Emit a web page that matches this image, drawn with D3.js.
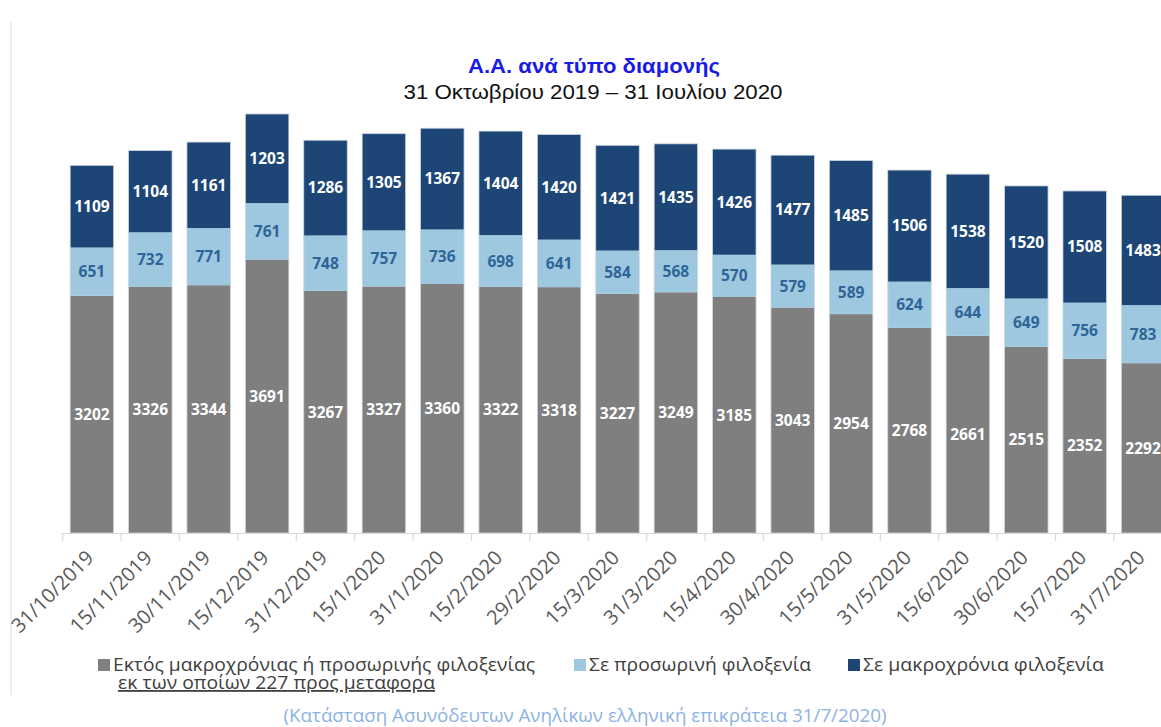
<!DOCTYPE html>
<html>
<head>
<meta charset="utf-8">
<script src="https://cdn.jsdelivr.net/npm/d3@7"></script>
<style>
  html, body { margin: 0; padding: 0; background: #fff; }
  svg { display: block; }
</style>
</head>
<body>
<script>
const categories = ["31/10/2019","15/11/2019","30/11/2019","15/12/2019","31/12/2019","15/1/2020","31/1/2020","15/2/2020","29/2/2020","15/3/2020","31/3/2020","15/4/2020","30/4/2020","15/5/2020","31/5/2020","15/6/2020","30/6/2020","15/7/2020","31/7/2020"];
const outside   = [3202,3326,3344,3691,3267,3327,3360,3322,3318,3227,3249,3185,3043,2954,2768,2661,2515,2352,2292];
const temporary = [651,732,771,761,748,757,736,698,641,584,568,570,579,589,624,644,649,756,783];
const longterm  = [1109,1104,1161,1203,1286,1305,1367,1404,1420,1421,1435,1426,1477,1485,1506,1538,1520,1508,1483];
const seriesNames = ["Εκτός μακροχρόνιας ή προσωρινής φιλοξενίας","Σε προσωρινή φιλοξενία","Σε μακροχρόνια φιλοξενία"];
const titleText = "Α.Α. ανά τύπο διαμονής";
const subtitleText = "31 Οκτωβρίου 2019 – 31 Ιουλίου 2020";
const noteText = "εκ των οποίων 227 προς μεταφορα";
const captionText = "(Κατάσταση Ασυνόδευτων Ανηλίκων ελληνική επικράτεια 31/7/2020)";

const W = 1161, H = 727;
const colors = ["#7f7f7f", "#9dc8e0", "#1d4677"];
const labelColors = ["#ffffff", "#2f6596", "#ffffff"];

const svg = d3.select("body").append("svg").attr("width", W).attr("height", H);

// left frame line
svg.append("line").attr("x1", 11).attr("x2", 11).attr("y1", 22).attr("y2", 695)
  .attr("stroke", "#dbeaf7").attr("stroke-width", 1.5);

const step = 58.4;
const x0 = 62.7;
const x = d3.scaleBand().domain(categories).range([x0, x0 + step * categories.length]).paddingInner(0.255).paddingOuter(0.1275);
const y = d3.scaleLinear().domain([0, 6000]).range([533, 88.4]);

const data = categories.map((c, i) => ({cat: c, outside: outside[i], temporary: temporary[i], longterm: longterm[i]}));
const keys = ["outside", "temporary", "longterm"];
const stacked = d3.stack().keys(keys)(data);

const g = svg.append("g");
stacked.forEach((s, si) => {
  g.selectAll(null).data(s).join("rect")
    .attr("x", d => x(d.data.cat))
    .attr("width", x.bandwidth())
    .attr("y", d => y(d[1]))
    .attr("height", d => y(d[0]) - y(d[1]))
    .attr("fill", colors[si]);
});
// light outline around bars
g.selectAll(null).data(data).join("rect")
  .attr("x", d => x(d.cat))
  .attr("width", x.bandwidth())
  .attr("y", d => y(d.outside + d.temporary + d.longterm))
  .attr("height", d => y(0) - y(d.outside + d.temporary + d.longterm))
  .attr("fill", "none").attr("stroke", "#cfd8e0").attr("stroke-width", 0.8);

// labels
stacked.forEach((s, si) => {
  g.selectAll(null).data(s).join("text")
    .attr("x", d => x(d.data.cat) + x.bandwidth() / 2)
    .attr("y", d => (y(d[0]) + y(d[1])) / 2)
    .attr("dy", "0.36em")
    .attr("text-anchor", "middle")
    .attr("font-family", "'Open Sans', sans-serif")
    .attr("font-weight", 700)
    .attr("font-size", 15.5)
    .attr("fill", labelColors[si])
    .text(d => d[1] - d[0]);
});

// x axis
const axis = svg.append("g");
axis.append("line").attr("x1", x0).attr("x2", W).attr("y1", 533.5).attr("y2", 533.5)
  .attr("stroke", "#d9d9d9").attr("stroke-width", 1.2);
const boundaries = categories.map((c, i) => x0 + step * i).concat([x0 + step * categories.length]);
axis.selectAll(null).data(boundaries).join("line")
  .attr("x1", d => d).attr("x2", d => d).attr("y1", 533).attr("y2", 541)
  .attr("stroke", "#d9d9d9").attr("stroke-width", 1.2);
axis.selectAll(null).data(categories).join("text")
  .attr("transform", c => `translate(${x(c) + x.bandwidth() / 2 + 3},${559}) rotate(-45)`)
  .attr("text-anchor", "end")
  .attr("font-family", "'Open Sans', sans-serif")
  .attr("font-size", 20)
  .attr("fill", "#595959")
  .text(c => c);

// title
svg.append("text").attr("x", 594).attr("y", 73).attr("text-anchor", "middle")
  .attr("font-family", "'Liberation Sans', Arial, sans-serif").attr("font-weight", 700)
  .attr("font-size", 20).attr("fill", "#1a1ae6")
  .attr("textLength", 252).attr("lengthAdjust", "spacingAndGlyphs").text(titleText);
svg.append("text").attr("x", 593).attr("y", 99).attr("text-anchor", "middle")
  .attr("font-family", "'Liberation Sans', Arial, sans-serif")
  .attr("font-size", 20).attr("fill", "#111")
  .attr("textLength", 379).attr("lengthAdjust", "spacingAndGlyphs").text(subtitleText);

// legend
const legX = [98, 574, 848];
const legW = [422, 222, 241];
const leg = svg.append("g");
seriesNames.forEach((n, i) => {
  leg.append("rect").attr("x", legX[i]).attr("y", 659).attr("width", 12).attr("height", 12).attr("fill", colors[i]);
  leg.append("text").attr("x", legX[i] + 15).attr("y", 671)
    .attr("font-family", "'Open Sans', sans-serif").attr("font-size", 18)
    .attr("textLength", legW[i]).attr("lengthAdjust", "spacingAndGlyphs")
    .attr("fill", "#404040").text(n);
});
leg.append("text").attr("x", 118).attr("y", 689)
  .attr("font-family", "'Open Sans', sans-serif").attr("font-size", 18)
  .attr("textLength", 317).attr("lengthAdjust", "spacingAndGlyphs")
  .attr("fill", "#404040").attr("text-decoration", "underline").text(noteText);

// caption
svg.append("text").attr("x", 585).attr("y", 722).attr("text-anchor", "middle")
  .attr("font-family", "'Open Sans', sans-serif").attr("font-size", 18)
  .attr("textLength", 603).attr("lengthAdjust", "spacingAndGlyphs")
  .attr("fill", "#8db3e2").text(captionText);
</script>
</body>
</html>
